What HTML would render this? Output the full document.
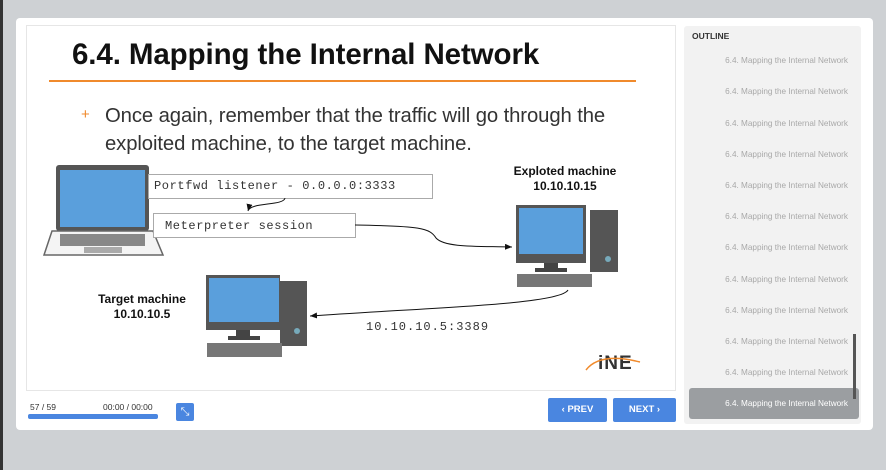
<!DOCTYPE html>
<html><head><style>
*{margin:0;padding:0;box-sizing:border-box}
body{width:886px;height:470px;background:#ced1d4;position:relative;overflow:hidden;font-family:"Liberation Sans",sans-serif}
.abs{position:absolute}
.mono{font-family:"Liberation Mono",monospace;color:#333}
.oi{position:absolute;left:0;width:172px;text-align:right;font-size:8.2px;color:#a8a8a8;padding-right:8px}
</style></head><body>
<div class="abs" style="left:0;top:0;width:3px;height:470px;background:#333"></div>
<div class="abs" style="left:16px;top:18px;width:857px;height:412px;background:#fff;border-radius:4px"></div>
<div class="abs" style="left:26px;top:25px;width:650px;height:366px;border:1px solid #e6e6e6"></div>
<div class="abs" style="left:72px;top:38px;font-size:29.5px;font-weight:bold;color:#111;letter-spacing:-0.1px">6.4. Mapping the Internal Network</div>
<div class="abs" style="left:49px;top:80px;width:587px;height:2px;background:#f08a2c"></div>
<div class="abs" style="left:81px;top:106px;font-size:15px;color:#f08a2c">+</div>
<div class="abs" style="left:105px;top:102px;font-size:20.3px;color:#333;line-height:28px;letter-spacing:-0.1px">Once again, remember that the traffic will go through the<br>exploited machine, to the target machine.</div>

<svg class="abs" style="left:0;top:0" width="886" height="470">
<defs><marker id="a" markerWidth="8" markerHeight="8" refX="7" refY="3" orient="auto"><path d="M0,0L7,3L0,6z" fill="#111"/></marker></defs>
<rect x="56" y="165" width="93" height="66" rx="3" fill="#555"/>
<rect x="60" y="170" width="85" height="57" fill="#5a9fdc"/>
<path d="M52,231 L153,231 L163,255 L44,255Z" fill="#f4f4f4" stroke="#666" stroke-width="1.5"/>
<rect x="60" y="234" width="85" height="12" fill="#888"/>
<rect x="84" y="247" width="38" height="6" fill="#aaa"/>
<rect x="516" y="205" width="70" height="58" fill="#555"/>
<rect x="519" y="208" width="64" height="46" fill="#5a9fdc"/>
<rect x="544" y="263" width="14" height="6" fill="#444"/>
<rect x="535" y="268" width="32" height="4" fill="#444"/>
<rect x="590" y="210" width="28" height="62" fill="#555"/>
<circle cx="608" cy="259" r="3" fill="#7ab"/>
<rect x="517" y="274" width="75" height="13" fill="#777"/>
<rect x="206" y="275" width="74" height="55" fill="#555"/>
<rect x="209" y="278" width="70" height="44" fill="#5a9fdc"/>
<rect x="236" y="330" width="14" height="7" fill="#444"/>
<rect x="228" y="336" width="32" height="4" fill="#444"/>
<rect x="280" y="281" width="27" height="65" fill="#555"/>
<circle cx="297" cy="331" r="3" fill="#7ab"/>
<rect x="207" y="343" width="75" height="14" fill="#777"/>
<rect x="148.5" y="174.5" width="284" height="24" fill="#fff" stroke="#aaa"/>
<rect x="153.5" y="213.5" width="202" height="24" fill="#fff" stroke="#aaa"/>
<path d="M285,198 C284,206 250,202 248,211" fill="none" stroke="#111" marker-end="url(#a)"/>
<path d="M355,225 C420,226 430,228 436,238 C445,248 480,246 512,247" fill="none" stroke="#111" marker-end="url(#a)"/>
<path d="M568,290 C560,305 420,308 310,316" fill="none" stroke="#111" marker-end="url(#a)"/>
<text x="598" y="369" font-family="Liberation Sans" font-weight="bold" font-size="19" fill="#333" letter-spacing="1">iNE</text>
<path d="M586,370 Q600,352 640,362" fill="none" stroke="#f08a2c" stroke-width="1.5"/>
</svg>
<div class="abs mono" style="left:154px;top:179px;font-size:12px;letter-spacing:0.6px">Portfwd listener - 0.0.0.0:3333</div>
<div class="abs mono" style="left:165px;top:219px;font-size:12px;letter-spacing:0.6px">Meterpreter session</div>
<div class="abs mono" style="left:366px;top:320px;font-size:12px;letter-spacing:1px">10.10.10.5:3389</div>
<div class="abs" style="left:505px;top:164px;width:120px;text-align:center;font-size:12px;font-weight:bold;color:#111;line-height:15px">Exploted machine<br>10.10.10.15</div>
<div class="abs" style="left:82px;top:292px;width:120px;text-align:center;font-size:12px;font-weight:bold;color:#111;line-height:15px">Target machine<br>10.10.10.5</div>

<div class="abs" style="left:30px;top:402px;font-size:8.5px;color:#333">57 / 59</div>
<div class="abs" style="left:103px;top:402px;font-size:8.5px;color:#333">00:00 / 00:00</div>
<div class="abs" style="left:28px;top:414px;width:130px;height:5px;background:#4a86e0;border-radius:2px"></div>
<div class="abs" style="left:176px;top:403px;width:18px;height:18px;background:#4a86e0;border-radius:2px;color:#fff;font-size:11px;text-align:center;line-height:18px">⤡</div>
<div class="abs" style="left:548px;top:398px;width:59px;height:24px;background:#4a86e0;border-radius:2px;color:#fff;font-size:9.5px;font-weight:bold;text-align:center;line-height:24px">‹ PREV</div>
<div class="abs" style="left:613px;top:398px;width:63px;height:24px;background:#4a86e0;border-radius:2px;color:#fff;font-size:9.5px;font-weight:bold;text-align:center;line-height:24px">NEXT ›</div>

<div class="abs" style="left:684px;top:26px;width:177px;height:398px;background:#f2f2f2;border-radius:3px">
<div class="abs" style="left:8px;top:5px;font-size:8.5px;font-weight:bold;color:#333">OUTLINE</div>
<div class="oi" style="top:30px">6.4. Mapping the Internal Network</div>
<div class="oi" style="top:61px">6.4. Mapping the Internal Network</div>
<div class="oi" style="top:93px">6.4. Mapping the Internal Network</div>
<div class="oi" style="top:124px">6.4. Mapping the Internal Network</div>
<div class="oi" style="top:155px">6.4. Mapping the Internal Network</div>
<div class="oi" style="top:186px">6.4. Mapping the Internal Network</div>
<div class="oi" style="top:217px">6.4. Mapping the Internal Network</div>
<div class="oi" style="top:249px">6.4. Mapping the Internal Network</div>
<div class="oi" style="top:280px">6.4. Mapping the Internal Network</div>
<div class="oi" style="top:311px">6.4. Mapping the Internal Network</div>
<div class="oi" style="top:342px">6.4. Mapping the Internal Network</div>
<div class="abs" style="left:5px;top:362px;width:170px;height:31px;background:#9b9ea1;border-radius:3px"></div>
<div class="oi" style="top:373px;color:#fff">6.4. Mapping the Internal Network</div>
<div class="abs" style="left:169px;top:308px;width:3px;height:65px;background:#555"></div>
</div>
</body></html>
